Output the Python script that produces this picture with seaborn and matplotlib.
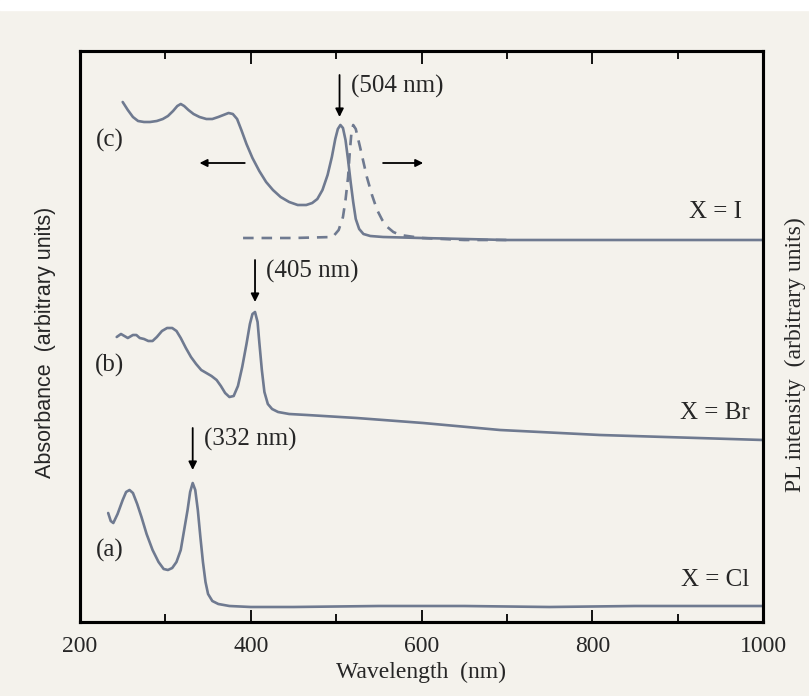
import numpy as np
import pandas as pd
import matplotlib
matplotlib.use("Agg")
import matplotlib.pyplot as plt
from matplotlib.patches import Rectangle
from matplotlib.ticker import MultipleLocator
import seaborn as sns

# -------------------------
# Data (arbitrary vertical units)
# -------------------------
cl_wl = [233, 236, 239, 244, 250, 254, 258, 262, 267, 272, 278, 285, 292, 298,
         303, 308, 313, 318, 322, 326, 329, 332, 335, 338, 341, 344, 347, 350,
         355, 362, 375, 400, 450, 550, 650, 750, 850, 1000]
cl_abs = [109, 101, 99, 108, 122, 130, 132, 129, 118, 105, 88, 72, 60, 53,
          52, 54, 60, 72, 92, 112, 130, 139, 132, 112, 85, 60, 40, 28,
          21, 18, 16, 15, 15, 16, 16, 15, 16, 16]

br_wl = [243, 248, 252, 256, 262, 266, 270, 275, 280, 285, 290, 296, 302, 308,
         313, 318, 324, 330, 336, 342, 348, 354, 360, 365, 370, 375, 380, 385,
         390, 395, 399, 402, 405, 408, 410, 413, 416, 420, 425, 432, 445, 466,
         524, 602, 692, 809, 1000]
br_abs = [285, 288, 286, 284, 287, 287, 284, 283, 281, 281, 285, 291, 294, 294,
          291, 284, 274, 265, 258, 252, 249, 246, 242, 236, 229, 225, 226, 236,
          255, 278, 298, 308, 310, 300, 280, 252, 230, 218, 213, 210, 208, 207,
          204, 199, 192, 187, 182]

i_wl = [250, 256, 262, 268, 275, 282, 290, 297, 303, 309, 314, 318, 322, 327,
        333, 340, 348, 355, 362, 368, 374, 379, 384, 389, 395, 402, 410, 418,
        426, 435, 445, 455, 465, 472, 478, 484, 490, 495, 499, 502, 505, 508,
        511, 514, 517, 520, 523, 527, 532, 540, 555, 600, 700, 1000]
i_abs = [520, 512, 505, 501, 500, 500, 501, 503, 506, 511, 516, 518, 516, 512,
         508, 505, 503, 503, 505, 507, 509, 508, 503, 492, 478, 464, 451, 440,
         432, 425, 420, 417, 417, 419, 423, 432, 447, 465, 483, 493, 497, 494,
         482, 462, 440, 420, 403, 393, 388, 386, 385, 384, 382, 382]

pl_wl = [391, 450, 496, 503, 508, 511, 514, 516, 518, 520, 523, 528, 532, 536,
         542, 548, 554, 560, 567, 575, 600, 650, 704]
pl_int = [384, 384, 385, 392, 405, 422, 445, 470, 490, 497, 493, 475, 460, 445,
          427, 412, 402, 395, 390, 387, 384, 382, 382]

peak_wl = [332, 405, 504]
peak_tip = [152, 320, 505]
peak_labels = ["(332 nm)", "(405 nm)", "(504 nm)"]
curve_tags = ["(a)", "(b)", "(c)"]
tag_y = [72, 257, 482]
halide_labels = ["X = Cl", "X = Br", "X = I"]
halide_x = [984, 984, 975]
halide_y = [42, 209, 410]

# -------------------------
# Plot
# -------------------------
BG = "#f4f2ec"
LINE = "#6f7a90"

sns.set_style("white")
plt.rcParams["font.family"] = ["Liberation Serif", "DejaVu Serif"]
plt.rcParams["font.size"] = 17

fig = plt.figure(figsize=(8.09, 6.96), dpi=100, facecolor=BG)
fig.patches.append(Rectangle((0, 1 - 10 / 696), 1, 10 / 696, transform=fig.transFigure,
                             color="white", zorder=-1))
ax = fig.add_axes([80 / 809, 74 / 696, 683 / 809, 571 / 696])
ax.set_facecolor(BG)

abs_df = pd.concat([
    pd.DataFrame({"wl": cl_wl, "val": cl_abs, "X": "Cl"}),
    pd.DataFrame({"wl": br_wl, "val": br_abs, "X": "Br"}),
    pd.DataFrame({"wl": i_wl, "val": i_abs, "X": "I"}),
])
sns.lineplot(data=abs_df, x="wl", y="val", units="X", estimator=None,
             color=LINE, linewidth=1.9, ax=ax, sort=False)

ax2 = ax.twinx()
sns.lineplot(x=pl_wl, y=pl_int, color=LINE, linewidth=1.9, linestyle=(0, (4, 3)),
             ax=ax2, estimator=None, sort=False)

for a in (ax, ax2):
    a.set_xlim(200, 1000)
    a.set_ylim(0, 571)
    a.set_yticks([])
    for s in a.spines.values():
        s.set_color("black")
        s.set_linewidth(2.2)

ax.xaxis.set_major_locator(MultipleLocator(200))
ax.xaxis.set_minor_locator(MultipleLocator(100))
ax.tick_params(axis="x", which="both", direction="in", top=True, bottom=True,
               width=1.3, color="black", labelsize=17, pad=10)
ax.tick_params(axis="x", which="major", length=9)
ax.tick_params(axis="x", which="minor", length=6)

ax.set_xlabel("Wavelength  (nm)", fontsize=17)
ax.xaxis.set_label_coords(0.5, -0.070)

ax.set_ylabel("Absorbance  (arbitrary units)", fontsize=15.5,
              family=["Liberation Sans", "DejaVu Sans"], va="center")
ax.yaxis.set_label_coords(-0.051, 0.490)
ax2.set_ylabel("PL intensity  (arbitrary units)", fontsize=17, va="center")
ax2.yaxis.set_label_position("right")
ax2.yaxis.set_label_coords(1.0325, 0.469)

# peak arrows and labels
for wl, tip, lab in zip(peak_wl, peak_tip, peak_labels):
    ax.annotate("", xy=(wl, tip), xytext=(wl, tip + 42),
                arrowprops=dict(arrowstyle="-|>", color="black", lw=1.3,
                                mutation_scale=12, shrinkA=0, shrinkB=0))
    ax.text(wl + 13, tip + 31, lab, fontsize=18, va="center", ha="left")

for lab, y in zip(curve_tags, tag_y):
    ax.text(235, y, lab, fontsize=18, ha="center", va="center")

for lab, x, y in zip(halide_labels, halide_x, halide_y):
    ax.text(x, y, lab, fontsize=18, ha="right", va="center")

# which axis each curve of (c) belongs to
ax.annotate("", xy=(340, 459), xytext=(393, 459),
            arrowprops=dict(arrowstyle="-|>", color="black", lw=1.3,
                            mutation_scale=11, shrinkA=0, shrinkB=0))
ax.annotate("", xy=(602, 459), xytext=(555, 459),
            arrowprops=dict(arrowstyle="-|>", color="black", lw=1.3,
                            mutation_scale=11, shrinkA=0, shrinkB=0))

fig.savefig("out.png", dpi=100, facecolor=BG)
plt.close(fig)
